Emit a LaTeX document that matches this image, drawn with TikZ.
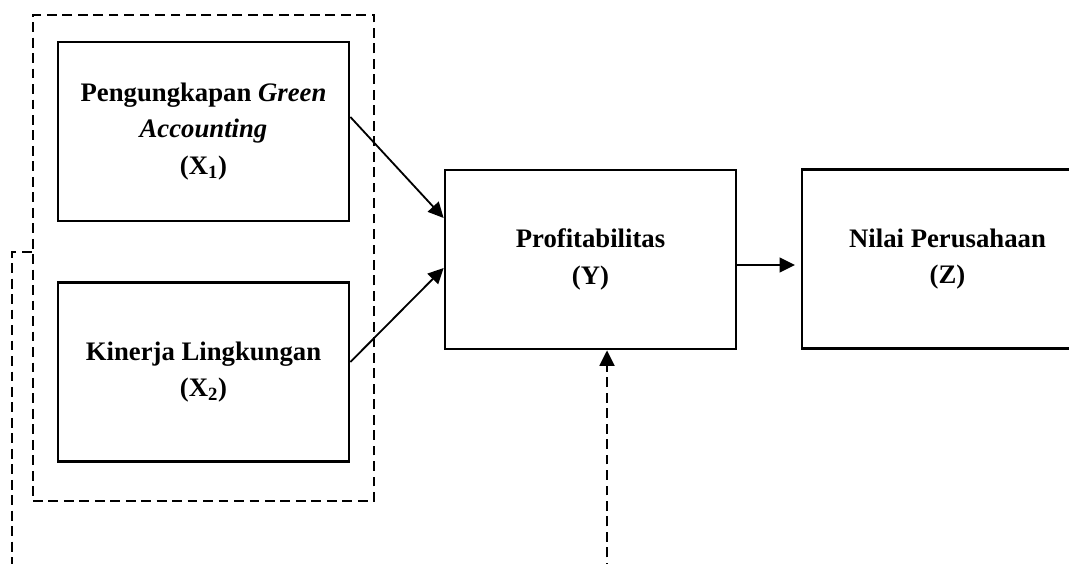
\documentclass[tikz,border=0pt]{standalone}
\usepackage{fontspec}
\setmainfont{Liberation Serif}
\usepackage{tikz}
\usetikzlibrary{arrows.meta}
\usetikzlibrary{positioning}

\begin{document}
\begin{tikzpicture}[x=0.025cm, y=-0.025cm,
	>={Triangle[length=11pt,width=10.5pt]},
	box/.style = {
			draw,
			line width     = 1.9pt,
			minimum width  = 7.275cm,
			minimum height = 4.475cm,
			inner sep      = 0pt,
			align          = center,
			font           = \fontsize{19}{26}\selectfont\bfseries,
		},
	grpbox/.style = {
			draw,
			line width     = 1.8pt,
			dash pattern   = on 7pt off 4pt,
			minimum width  = 8.525cm,
			minimum height = 12.15cm,
			inner sep      = 0pt,
		},
	dashline/.style = {line width=1.8pt, dash pattern=on 7pt off 4pt},
	link/.style = {->, line width=1.3pt}]
			\useasboundingbox (0,0) rectangle (1069,564);
			\clip (0,0) rectangle (1069,564);

			% group of X1 and X2
			\node[grpbox] (grp) at (203.5, 258) {};
			\node[box] (X1) at (203.5, 131.5) {Pengungkapan \textit{Green}\\\textit{Accounting}\\(X$_{\mathbf{1}}$)};
			\node[box] (X2) at (203.5, 372) {Kinerja Lingkungan\\(X$_{\mathbf{2}}$)};

			% Y and Z
			\node[box] (Y) at (590.5, 259.5) {Profitabilitas\\(Y)};
			\node[box] (Z) at (947.5, 259) {Nilai Perusahaan\\(Z)};

			% arrows
			\draw[link] (X1.east |- 0,117) -- (Y.west |- 0,218);
			\draw[link] (X2.east |- 0,362) -- (Y.west |- 0,268);
			\draw[link, shorten >=4pt] (Y.east |- 0,265) -- (Z.west |- 0,265);

			% dashed link from the group to Y
			\draw[dashline, ->] (grp.west |- 0,252) -- (12,252) -- (12,600) -- (607,600) -- (Y.south -| 607,0);
		\end{tikzpicture}
\end{document}
